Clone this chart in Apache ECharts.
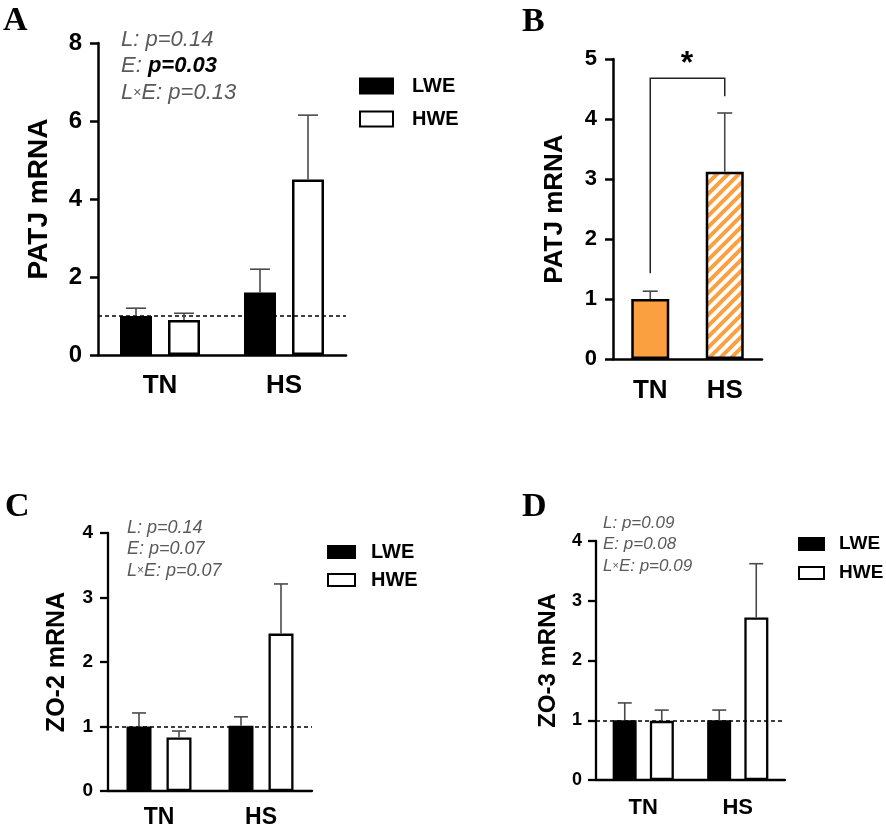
<!DOCTYPE html>
<html>
<head>
<meta charset="utf-8">
<script src="https://cdn.jsdelivr.net/npm/echarts@6/dist/echarts.min.js"></script>
<style>
html,body{margin:0;padding:0;background:#fff;}
#chart{width:886px;height:830px;}
</style>
</head>
<body>
<div id="chart"></div>
<script>
// ---------------- data ----------------
const categories = ['TN', 'HS'];
const seriesNames = ['LWE', 'HWE'];

// Panel A : PATJ mRNA (mean, SEM)
const aLWE = [1.0, 1.6];
const aLWEerr = [0.2, 0.6];
const aHWE = [0.9, 4.5];
const aHWEerr = [0.17, 1.65];
const aTicks = [0, 2, 4, 6, 8];

// Panel B : PATJ mRNA pooled
const bMean = [1.0, 3.12];
const bErr = [0.13, 0.98];
const bBracket = [1.43, 4.68, 4.38]; // left foot, top, right foot
const bTicks = [0, 1, 2, 3, 4, 5];

// Panel C : ZO-2 mRNA
const cLWE = [1.0, 1.01];
const cLWEerr = [0.21, 0.14];
const cHWE = [0.83, 2.44];
const cHWEerr = [0.1, 0.77];
const cTicks = [0, 1, 2, 3, 4];

// Panel D : ZO-3 mRNA
const dLWE = [1.0, 1.0];
const dLWEerr = [0.29, 0.17];
const dHWE = [0.99, 2.72];
const dHWEerr = [0.18, 0.9];
const dTicks = [0, 1, 2, 3, 4];

const refLevel = 1;

const pA = ['L: p=0.14', 'E: ', 'p=0.03', 'E: p=0.13'];
const pC = ['L: p=0.14', 'E: p=0.07', 'E: p=0.07'];
const pD = ['L: p=0.09', 'E: p=0.08', 'E: p=0.09'];

// ---------------- styling ----------------
const FONT = '"Liberation Sans", Arial, sans-serif';
const SERIF = '"Liberation Serif", "Times New Roman", serif';
const ORANGE = '#FBA040';
const GRAY = '#5a5a5a';
const ERR = '#4a4a4a';

const grids = [
  {left: 98, top: 43, width: 248, height: 312},
  {left: 613, top: 59, width: 149, height: 300},
  {left: 108, top: 533, width: 204, height: 258},
  {left: 596, top: 541, width: 189, height: 239}
];
const ax = [
  {ticks: aTicks, name: 'PATJ mRNA', tick: 24, cat: 26, nameSize: 28, nameGap: 45, lMargin: 16, cMargin: 18, lw: 2.5},
  {ticks: bTicks, name: 'PATJ mRNA', tick: 22, cat: 26, nameSize: 26, nameGap: 45, lMargin: 16, cMargin: 19, lw: 2.5},
  {ticks: cTicks, name: 'ZO-2 mRNA', tick: 19, cat: 23, nameSize: 25, nameGap: 38, lMargin: 15, cMargin: 15, lw: 2.3},
  {ticks: dTicks, name: 'ZO-3 mRNA', tick: 18, cat: 22, nameSize: 24, nameGap: 36, lMargin: 14, cMargin: 17, lw: 2.3}
];

// hatch pattern for panel B (HS)
function hatch() {
  const s = 11;
  const cv = document.createElement('canvas');
  cv.width = s; cv.height = s;
  const g = cv.getContext('2d');
  g.fillStyle = '#fff';
  g.fillRect(0, 0, s, s);
  g.strokeStyle = ORANGE;
  g.lineWidth = 4;
  [0, s, 2 * s].forEach(function (k) {
    g.beginPath();
    g.moveTo(-2, k + 2);
    g.lineTo(k + 2, -2);
    g.stroke();
  });
  return cv;
}

function errBars(gi, means, errs, offset, cap) {
  return {
    type: 'custom', xAxisIndex: gi, yAxisIndex: gi, z: 5, silent: true,
    data: means.map(function (m, i) { return [i, m, m + errs[i]]; }),
    renderItem: function (p, api) {
      const b = api.coord([api.value(0), api.value(1)]);
      const t = api.coord([api.value(0), api.value(2)]);
      const x = b[0] + offset;
      const st = {stroke: ERR, lineWidth: 1.6};
      return {type: 'group', children: [
        {type: 'line', shape: {x1: x, y1: b[1], x2: x, y2: t[1]}, style: st},
        {type: 'line', shape: {x1: x - cap, y1: t[1], x2: x + cap, y2: t[1]}, style: st}
      ]};
    }
  };
}

function refLine() {
  return {
    silent: true, symbol: 'none', animation: false,
    data: [{yAxis: refLevel}],
    label: {show: false},
    lineStyle: {color: '#000', type: [4, 3], width: 1.5}
  };
}

function barPair(gi, lwe, hwe, bw, gap, bwid) {
  return [
    {name: 'LWE', type: 'bar', xAxisIndex: gi, yAxisIndex: gi, data: lwe, barWidth: bw, barGap: gap,
     itemStyle: {color: '#000', borderColor: '#000', borderWidth: bwid}},
    {name: 'HWE', type: 'bar', xAxisIndex: gi, yAxisIndex: gi, data: hwe, barWidth: bw, barGap: gap,
     itemStyle: {color: '#fff', borderColor: '#000', borderWidth: bwid}, markLine: refLine()}
  ];
}

const series = [].concat(
  barPair(0, aLWE, aHWE, 32, '50%', 2.5),
  [errBars(0, aLWE, aLWEerr, -24, 10), errBars(0, aHWE, aHWEerr, 24, 10)],
  [{
    name: 'PATJ', type: 'bar', xAxisIndex: 1, yAxisIndex: 1, barWidth: 38,
    data: [
      {value: bMean[0], itemStyle: {color: ORANGE, borderColor: '#000', borderWidth: 2.5}},
      {value: bMean[1], itemStyle: {color: {image: hatch(), repeat: 'repeat'}, borderColor: '#000', borderWidth: 2.5}}
    ]
  }, errBars(1, bMean, bErr, 0, 7.5), {
    type: 'custom', xAxisIndex: 1, yAxisIndex: 1, z: 5, silent: true,
    data: [[0, bBracket[0], bBracket[1], bBracket[2]]],
    renderItem: function (p, api) {
      const p0 = api.coord([0, api.value(1)]);
      const p1 = api.coord([0, api.value(2)]);
      const p2 = api.coord([1, api.value(2)]);
      const p3 = api.coord([1, api.value(3)]);
      return {type: 'polyline', shape: {points: [p0, p1, p2, p3]}, style: {stroke: '#222', lineWidth: 1.5, fill: null}};
    }
  }],
  barPair(2, cLWE, cHWE, 25, '60%', 2.3),
  [errBars(2, cLWE, cLWEerr, -20, 7), errBars(2, cHWE, cHWEerr, 20, 7)],
  barPair(3, dLWE, dHWE, 24, '55%', 2.3),
  [errBars(3, dLWE, dLWEerr, -18.5, 7), errBars(3, dHWE, dHWEerr, 18.5, 7)]
);

function legendAt(left, top, iw, ih, gap, fs, pad) {
  return {
    orient: 'vertical', left: left, top: top, icon: 'rect', selectedMode: false,
    itemWidth: iw, itemHeight: ih, itemGap: gap, padding: 0,
    textStyle: {fontSize: fs, fontWeight: 'bold', fontFamily: FONT, color: '#000', lineHeight: 20, padding: [0, 0, 0, pad]},
    data: [
      {name: seriesNames[0], itemStyle: {color: '#000', borderColor: '#000', borderWidth: 2}},
      {name: seriesNames[1], itemStyle: {color: '#fff', borderColor: '#000', borderWidth: 2}}
    ]
  };
}

function annot(x, ys, fs, lines, boldSecond) {
  const base = {fontSize: fs, fontStyle: 'italic', fontFamily: FONT, fill: GRAY, color: GRAY};
  const bold = {fontSize: fs, fontStyle: 'italic', fontWeight: 'bold', fontFamily: FONT, fill: '#000', color: '#000'};
  const small = {fontSize: Math.round(fs * 0.65), fontFamily: FONT, fill: GRAY, color: GRAY};
  const rich = {g: base, b: bold, s: small};
  const texts = boldSecond
    ? ['{g|' + lines[0] + '}', '{g|' + lines[1] + '}{b|' + lines[2] + '}', '{g|L}{s|×}{g|' + lines[3] + '}']
    : ['{g|' + lines[0] + '}', '{g|' + lines[1] + '}', '{g|L}{s|×}{g|' + lines[2] + '}'];
  return texts.map(function (t, i) {
    return {type: 'text', x: x, y: ys[i], silent: true,
      style: {text: t, rich: rich, align: 'left', verticalAlign: 'middle'}};
  });
}

function letter(ch, x, y) {
  return {type: 'text', x: x, y: y, silent: true,
    style: {text: ch, fontSize: 34, fontWeight: 'bold', fontFamily: SERIF, fill: '#000', align: 'left', verticalAlign: 'middle'}};
}

const option = {
  animation: false,
  backgroundColor: '#fff',
  grid: grids,
  xAxis: grids.map(function (g, i) {
    const a = ax[i];
    return {
      type: 'category', gridIndex: i, data: categories,
      axisLine: {lineStyle: {color: '#000', width: a.lw}},
      axisTick: {alignWithLabel: true, length: 8, lineStyle: {color: '#000', width: a.lw}},
      axisLabel: {color: '#000', fontWeight: 'bold', fontSize: a.cat, fontFamily: FONT, margin: a.cMargin},
      splitLine: {show: false}
    };
  }),
  yAxis: grids.map(function (g, i) {
    const a = ax[i];
    const t = a.ticks;
    return {
      type: 'value', gridIndex: i, min: t[0], max: t[t.length - 1], interval: t[1] - t[0],
      name: a.name, nameLocation: 'middle', nameRotate: 90, nameGap: a.nameGap,
      nameTextStyle: {color: '#000', fontWeight: 'bold', fontSize: a.nameSize, fontFamily: FONT},
      axisLine: {show: true, lineStyle: {color: '#000', width: a.lw}},
      axisTick: {show: true, length: 8, lineStyle: {color: '#000', width: a.lw}},
      axisLabel: {color: '#000', fontWeight: 'bold', fontSize: a.tick, fontFamily: FONT, margin: a.lMargin},
      splitLine: {show: false}
    };
  }),
  legend: [
    legendAt(359, 76, 33, 15, 13, 20, 14),
    legendAt(327, 542, 27, 12, 8, 20, 11),
    legendAt(798, 534, 25, 12, 9, 19, 10)
  ],
  series: series,
  graphic: [].concat(
    [letter('A', 3, 21), letter('B', 522, 22), letter('C', 5, 507), letter('D', 522, 507)],
    annot(121, [40, 66, 93], 22, pA, true),
    annot(127, [528, 549, 571], 18, pC, false),
    annot(603, [523, 544, 566], 17, pD, false),
    [{type: 'text', x: 687, y: 64, silent: true,
      style: {text: '*', fontSize: 32, fontWeight: 'bold', fontFamily: FONT, fill: '#000', align: 'center', verticalAlign: 'middle'}}]
  )
};

const chart = echarts.init(document.getElementById('chart'), null, {renderer: 'canvas'});
chart.setOption(option);
</script>
</body>
</html>
